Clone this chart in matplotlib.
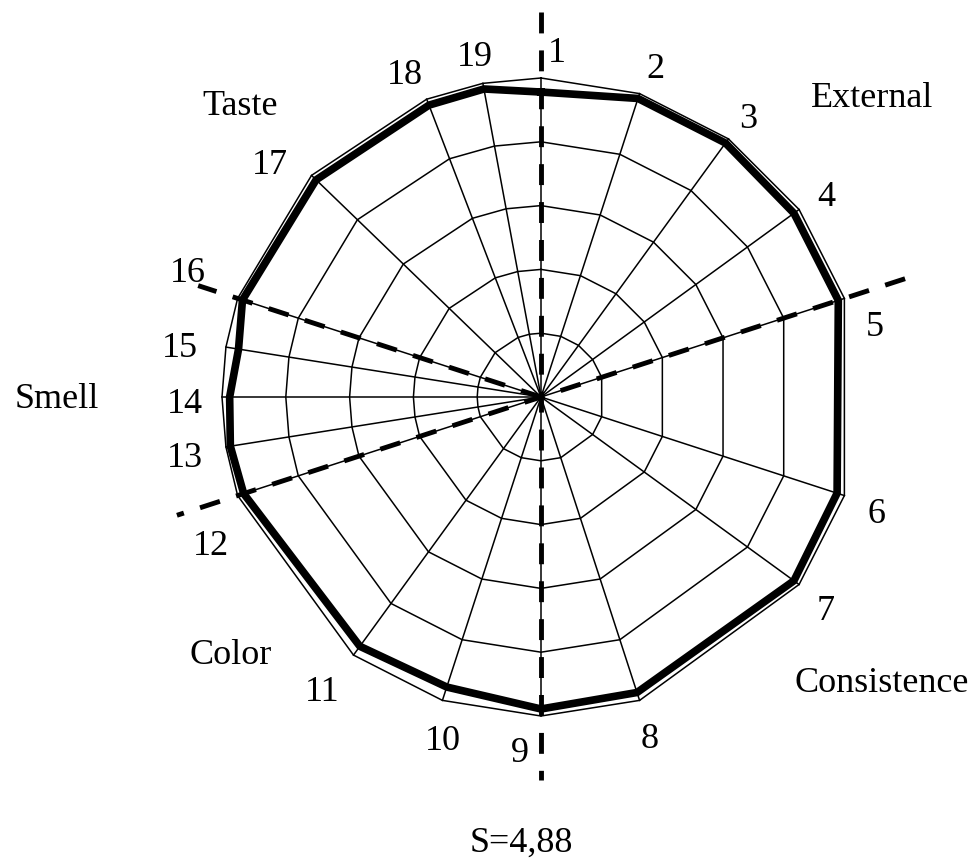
import numpy as np
from matplotlib import pyplot as plt

# data
axis_names = [str(i) for i in range(1, 20)]
scores = [4.78, 4.92, 4.92, 4.90, 4.90, 4.88, 4.90, 4.87, 4.89, 4.78,
          4.83, 4.90, 4.93, 4.88, 4.80, 4.92, 4.90, 4.90, 4.91]
groups = ["External", "Consistence", "Color", "Smell", "Taste"]
summary = "S=4,88"
max_score = 5

# spoke directions, degrees clockwise from the top (spacing is uneven in the original)
axis_angles = [0, 18, 36, 54, 72, 108, 126, 162, 180, 198,
               216, 252, 261, 270, 279, 288, 314, 339, 349.5]

W, H = 978, 861
cx, cy = 541, 397          # centre in pixels
k = 319 / max_score        # pixels per score unit

plt.rcParams['font.family'] = ['Liberation Serif', 'DejaVu Serif']

fig = plt.figure(figsize=(W / 100, H / 100), dpi=100)
ax = fig.add_axes([0, 0, 1, 1])
ax.set_xlim(-cx / k, (W - cx) / k)
ax.set_ylim(-(H - cy) / k, cy / k)
ax.axis('off')

th = np.deg2rad(axis_angles)
sx, sy = np.sin(th), np.cos(th)

# grid rings and spokes
for lev in range(1, max_score + 1):
    ax.plot(np.append(lev * sx, lev * sx[0]), np.append(lev * sy, lev * sy[0]),
            color='black', lw=1.1, zorder=2)
for a, b in zip(sx, sy):
    ax.plot([0, max_score * a], [0, max_score * b], color='black', lw=1.1, zorder=2)

# group separators (dashed)
dash = dict(color='black', lw=3.5, linestyle=(0, (4.3, 3.5)), zorder=3)
ax.plot([0, 0], [6.03, -6.0], **dash)
t5, t12, t16 = np.deg2rad([axis_angles[4], axis_angles[11], axis_angles[15]])
ax.plot([6.0 * np.sin(t5), 6.0 * np.sin(t12)], [6.0 * np.cos(t5), 6.0 * np.cos(t12)], **dash)
ax.plot([0, 5.65 * np.sin(t16)], [0, 5.65 * np.cos(t16)], **dash)

# scores
v = np.array(scores)
ax.plot(np.append(v * sx, v[0] * sx[0]), np.append(v * sy, v[0] * sy[0]),
        color='black', lw=5.5, solid_joinstyle='miter', zorder=4)


def label(px, py, s, ha='center'):
    fig.text(px / W, 1 - py / H, s, ha=ha, va='baseline', fontsize=26)


# axis numbers (pixel anchor, baseline)
num_pos = [(557, 62), (655, 78), (748, 128), (826, 206), (875, 336),
           (877, 523), (826, 620), (650, 748), (520, 762), (443, 750),
           (322, 701), (211, 555), (185, 467), (185, 413), (180, 357),
           (188, 282), (270, 174), (405, 84), (475, 66)]
for (px, py), s in zip(num_pos, axis_names):
    label(px, py, s)

grp_pos = [(872, 107), (882, 692), (231, 664), (57, 408), (240, 115)]
for (px, py), s in zip(grp_pos, groups):
    label(px, py, s)

label(521, 852, summary)

plt.savefig('out.png', dpi=100)
